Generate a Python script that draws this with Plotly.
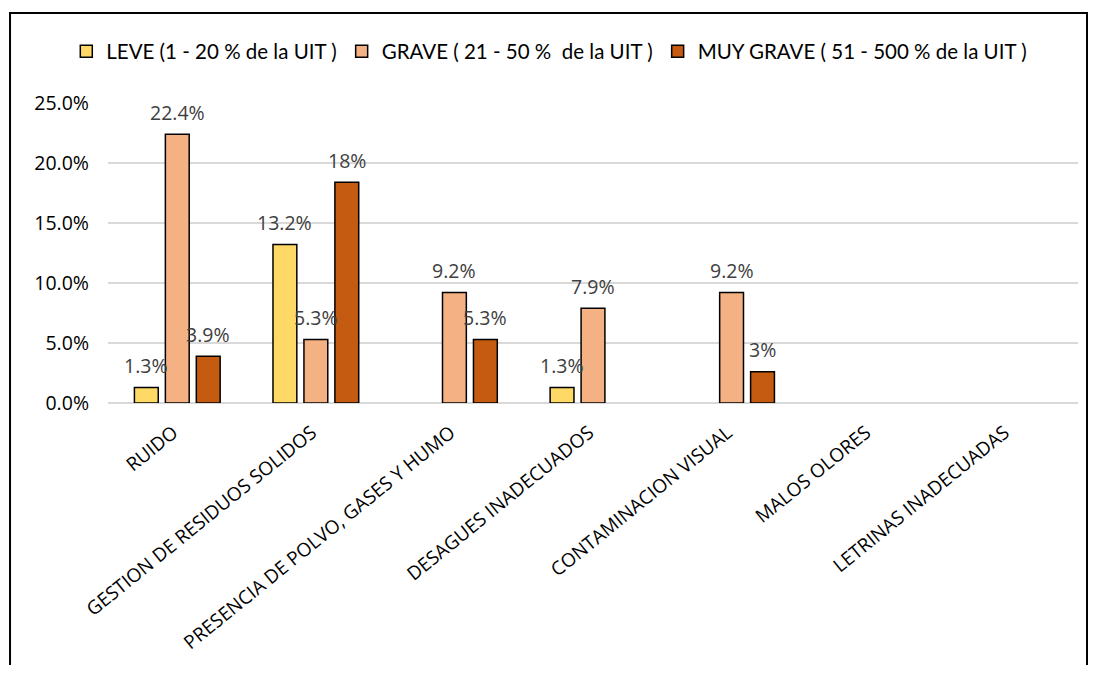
import plotly.graph_objects as go

categories = [
    "RUIDO",
    "GESTION DE RESIDUOS SOLIDOS",
    "PRESENCIA DE POLVO, GASES Y HUMO",
    "DESAGUES INADECUADOS",
    "CONTAMINACION VISUAL",
    "MALOS OLORES",
    "LETRINAS INADECUADAS",
]

leve = [1.3, 13.2, None, 1.3, None, None, None]
grave = [22.4, 5.3, 9.2, 7.9, 9.2, None, None]
muy_grave = [3.9, 18.4, 5.3, None, 2.6, None, None]

leve_text = ["1.3%", "13.2%", "", "1.3%", "", "", ""]
grave_text = ["22.4%", "5.3%", "9.2%", "7.9%", "9.2%", "", ""]
muy_grave_text = ["3.9%", "18%", "5.3%", "", "3%", "", ""]

series = [
    ("LEVE (1 - 20 % de la UIT )", leve, leve_text, "#FFD966"),
    ("GRAVE ( 21 - 50 %  de la UIT )", grave, grave_text, "#F4B183"),
    ("MUY GRAVE ( 51 - 500 % de la UIT )", muy_grave, muy_grave_text, "#C55A11"),
]

FONT = "Open Sans"
BARGAP = 0.33
slot_px = 970 / 7 * (1 - BARGAP) / 3  # horizontal offset of each bar inside its group

fig = go.Figure()
for i, (name, vals, txt, col) in enumerate(series):
    fig.add_trace(go.Bar(
        x=categories,
        y=vals,
        name=name,
        marker=dict(color=col, line=dict(color="black", width=1.5)),
    ))
    # value labels, lifted a little above the bars like the original
    for cat, v, t in zip(categories, vals, txt):
        if v is None:
            continue
        fig.add_annotation(
            x=cat, y=v, text=t, showarrow=False,
            xshift=(i - 1) * slot_px, yshift=22,
            font=dict(size=19.5, color="#404040", family=FONT),
        )

fig.update_layout(
    width=1080,
    height=657,
    barmode="group",
    bargap=BARGAP,
    bargroupgap=0.23,
    paper_bgcolor="white",
    plot_bgcolor="white",
    font=dict(family=FONT, size=17, color="black"),
    margin=dict(l=100, r=10, t=95, b=259),
    showlegend=True,
    legend=dict(
        orientation="h",
        x=-0.043,
        xanchor="left",
        y=1.172,
        yanchor="middle",
        font=dict(size=20.5, family="Lato", color="black"),
        itemwidth=30,
    ),
)

fig.update_yaxes(
    range=[0, 25],
    dtick=5,
    tickformat=".1f",
    ticksuffix="%",
    showgrid=True,
    gridcolor="#D9D9D9",
    gridwidth=1.5,
    zeroline=True,
    zerolinecolor="#D9D9D9",
    zerolinewidth=1.5,
    tickfont=dict(size=19.5, color="black", family=FONT),
    ticks="",
    ticklabelstandoff=18,
)
fig.update_xaxes(
    tickangle=-39,
    tickfont=dict(size=19, color="black", family=FONT),
    showline=False,
    ticks="",
    ticklabelshift=-4,
    ticklabelstandoff=14,
)

# outer frame of the original figure
fig.add_shape(
    type="rect", xref="paper", yref="paper",
    x0=-0.101, x1=1.0093, y0=-0.95, y1=1.300,
    line=dict(color="black", width=2),
    fillcolor="rgba(0,0,0,0)",
    layer="below",
)

fig.write_html("out.html")
